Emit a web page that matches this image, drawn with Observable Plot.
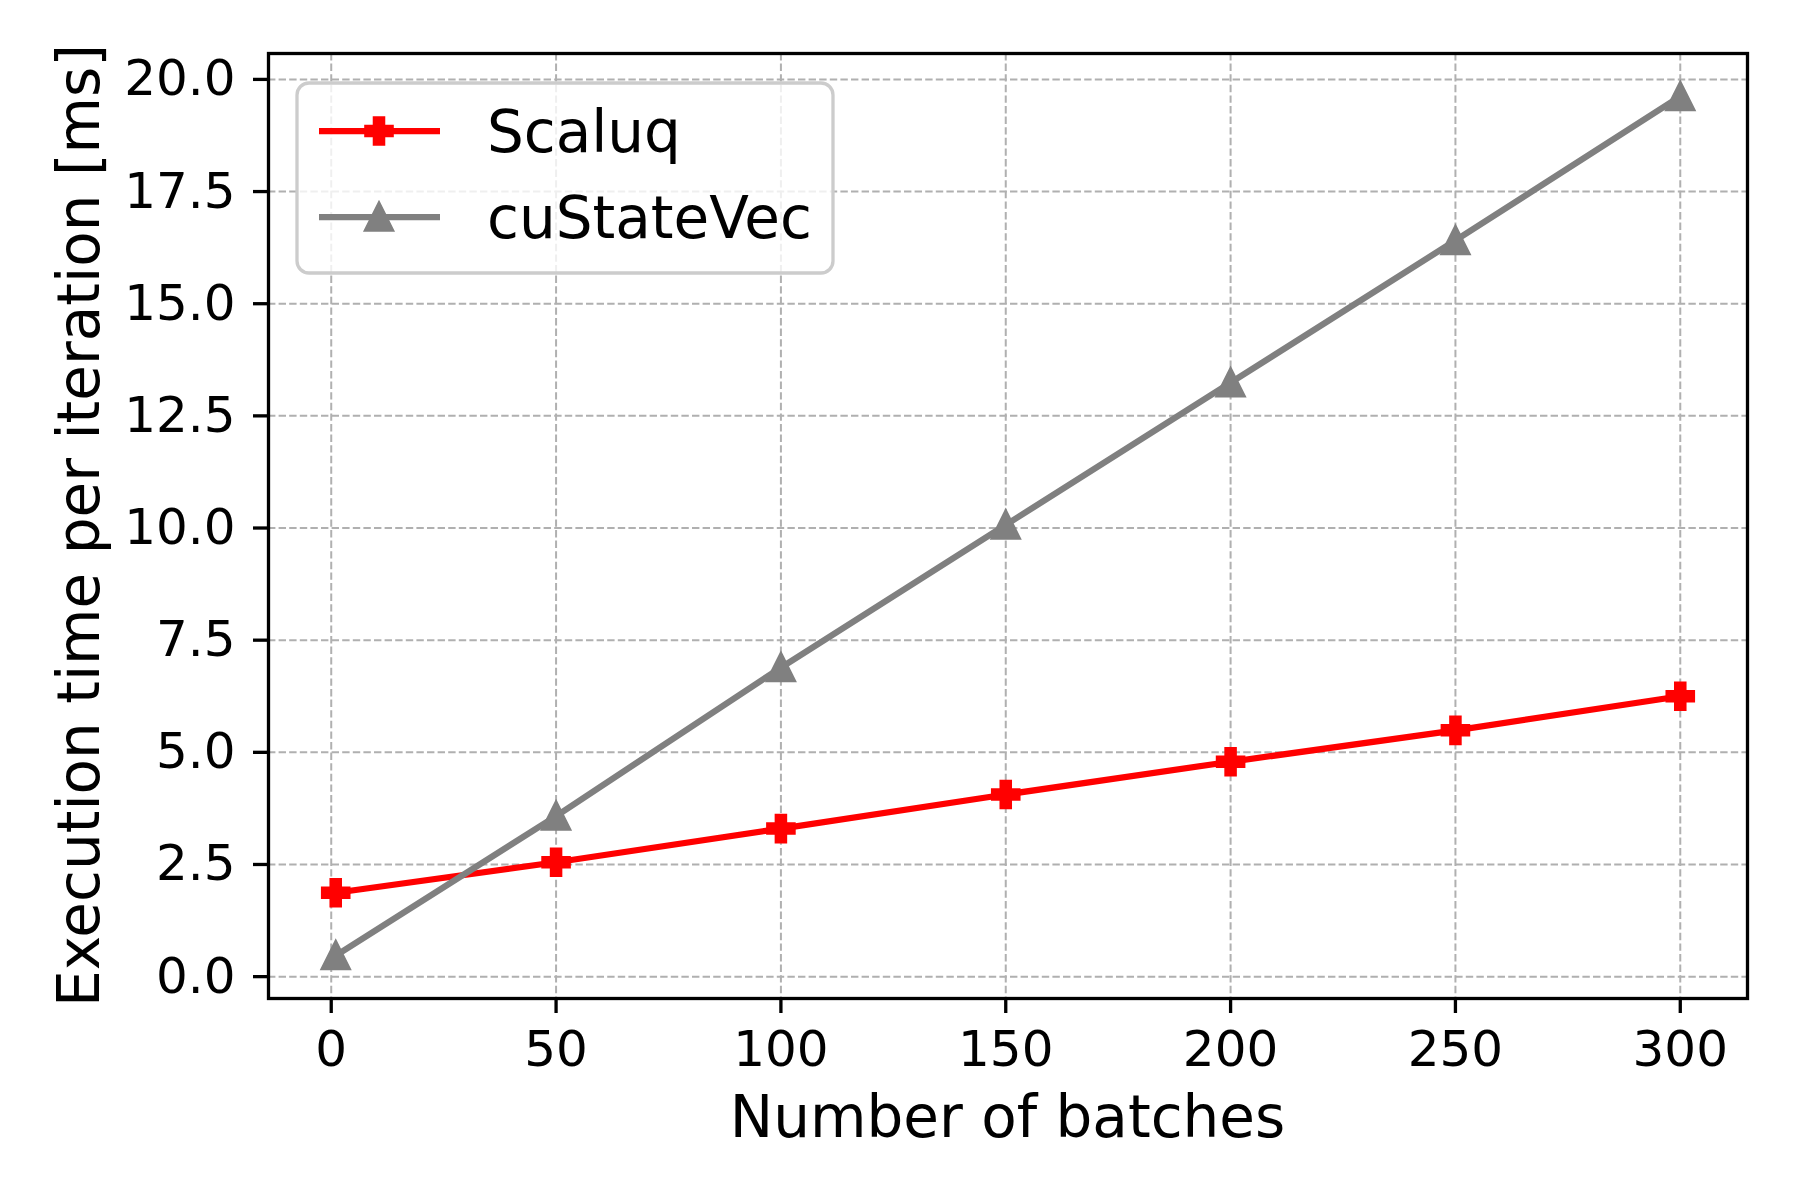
<!DOCTYPE html>
<html>
<head>
<meta charset="utf-8">
<script src="https://cdn.jsdelivr.net/npm/d3@7"></script>
<script src="https://cdn.jsdelivr.net/npm/@observablehq/plot@0.6"></script>
<style>
  html, body { margin: 0; padding: 0; background: #ffffff; }
  #chart svg { display: block; }
</style>
</head>
<body>
<div id="chart"></div>
<script>
// ---- data ----
const batches = [1, 50, 100, 150, 200, 250, 300];
const scaluq = [1.87, 2.55, 3.30, 4.06, 4.79, 5.49, 6.25];
const custatevec = [0.47, 3.58, 6.89, 10.07, 13.24, 16.41, 19.62];
const seriesNames = ["Scaluq", "cuStateVec"];
const seriesColors = ["red", "gray"];
const xTicks = [0, 50, 100, 150, 200, 250, 300];
const yTicks = [0, 2.5, 5, 7.5, 10, 12.5, 15, 17.5, 20];
const xLabel = "Number of batches";
const yLabel = "Execution time per iteration [ms]";

const scaluqData = batches.map((b, i) => ({batches: b, time: scaluq[i]}));
const cuData = batches.map((b, i) => ({batches: b, time: custatevec[i]}));

// matplotlib-like marker shapes ('P' filled plus, '^' triangle)
const plusFilled = {
  draw(ctx, size) {
    const h = Math.sqrt(size / Math.PI), a = h / 3;
    ctx.moveTo(-a, -h); ctx.lineTo(a, -h); ctx.lineTo(a, -a); ctx.lineTo(h, -a);
    ctx.lineTo(h, a); ctx.lineTo(a, a); ctx.lineTo(a, h); ctx.lineTo(-a, h);
    ctx.lineTo(-a, a); ctx.lineTo(-h, a); ctx.lineTo(-h, -a); ctx.lineTo(-a, -a);
    ctx.closePath();
  }
};
const triangleUp = {
  draw(ctx, size) {
    const h = Math.sqrt(size / Math.PI);
    ctx.moveTo(0, -h); ctx.lineTo(h, h); ctx.lineTo(-h, h); ctx.closePath();
  }
};
const seriesSymbols = [plusFilled, triangleUp];
const markerR = 12.8;

// matplotlib-style 5% margins around the data extent
const xExt = d3.extent(batches);
const yExt = d3.extent(scaluq.concat(custatevec));
const xPad = (xExt[1] - xExt[0]) * 0.05;
const yPad = (yExt[1] - yExt[0]) * 0.05;

const gridStyle = {stroke: "#b0b0b0", strokeOpacity: 1, strokeWidth: 2, strokeDasharray: "7.4,3.2"};

const chart = Plot.plot({
  width: 1800,
  height: 1200,
  marginLeft: 268,
  marginRight: 53,
  marginTop: 53,
  marginBottom: 202,
  style: {fontFamily: "DejaVu Sans", fontSize: "50px", color: "black", background: "white"},
  x: {domain: [xExt[0] - xPad, xExt[1] + xPad]},
  y: {domain: [yExt[0] - yPad, yExt[1] + yPad]},
  marks: [
    Plot.gridX(xTicks, gridStyle),
    Plot.gridY(yTicks, gridStyle),
    Plot.axisX(xTicks, {tickSize: 15, tickPadding: 17, strokeWidth: 3.3, stroke: "black", fill: "black", fontSize: 50, label: null}),
    Plot.axisY(yTicks, {tickSize: 15, tickPadding: 18, strokeWidth: 3.3, stroke: "black", fill: "black", fontSize: 50, tickFormat: d3.format(".1f"), label: null}),
    Plot.line(scaluqData, {x: "batches", y: "time", stroke: seriesColors[0], strokeWidth: 6.25, strokeLinejoin: "round"}),
    Plot.dot(scaluqData, {x: "batches", y: "time", symbol: seriesSymbols[0], r: markerR, fill: seriesColors[0], stroke: seriesColors[0], strokeWidth: 4}),
    Plot.line(cuData, {x: "batches", y: "time", stroke: seriesColors[1], strokeWidth: 6.25, strokeLinejoin: "round"}),
    Plot.dot(cuData, {x: "batches", y: "time", symbol: seriesSymbols[1], r: markerR, fill: seriesColors[1], stroke: seriesColors[1], strokeWidth: 4}),
    Plot.frame({stroke: "black", strokeWidth: 3.3})
  ]
});

document.getElementById("chart").appendChild(chart);

// ---- axis titles and legend ----
const svg = d3.select(chart);
const fontFamily = "DejaVu Sans";

svg.append("text")
  .attr("x", (268 + 1747) / 2)
  .attr("y", 1137)
  .attr("text-anchor", "middle")
  .attr("font-family", fontFamily)
  .attr("font-size", 58)
  .attr("fill", "black")
  .text(xLabel);

svg.append("text")
  .attr("transform", `translate(99, ${(53 + 998) / 2}) rotate(-90)`)
  .attr("text-anchor", "middle")
  .attr("font-family", fontFamily)
  .attr("font-size", 58)
  .attr("fill", "black")
  .text(yLabel);

const lg = svg.append("g");
lg.append("rect")
  .attr("x", 297).attr("y", 83)
  .attr("width", 536).attr("height", 190)
  .attr("rx", 12).attr("ry", 12)
  .attr("fill", "white").attr("fill-opacity", 0.8)
  .attr("stroke", "#cccccc").attr("stroke-width", 3.3);

const rowY = [131, 217];
seriesNames.forEach((name, i) => {
  const y = rowY[i];
  lg.append("line")
    .attr("x1", 319).attr("x2", 440).attr("y1", y).attr("y2", y)
    .attr("stroke", seriesColors[i]).attr("stroke-width", 6.25);
  lg.append("path")
    .attr("transform", `translate(379, ${y})`)
    .attr("d", d3.symbol(seriesSymbols[i], Math.PI * markerR * markerR)())
    .attr("fill", seriesColors[i]).attr("stroke", seriesColors[i]).attr("stroke-width", 4);
  lg.append("text")
    .attr("x", 487).attr("y", y + 21)
    .attr("text-anchor", "start")
    .attr("font-family", fontFamily)
    .attr("font-size", 58)
    .attr("fill", "black")
    .text(name);
});
</script>
</body>
</html>
